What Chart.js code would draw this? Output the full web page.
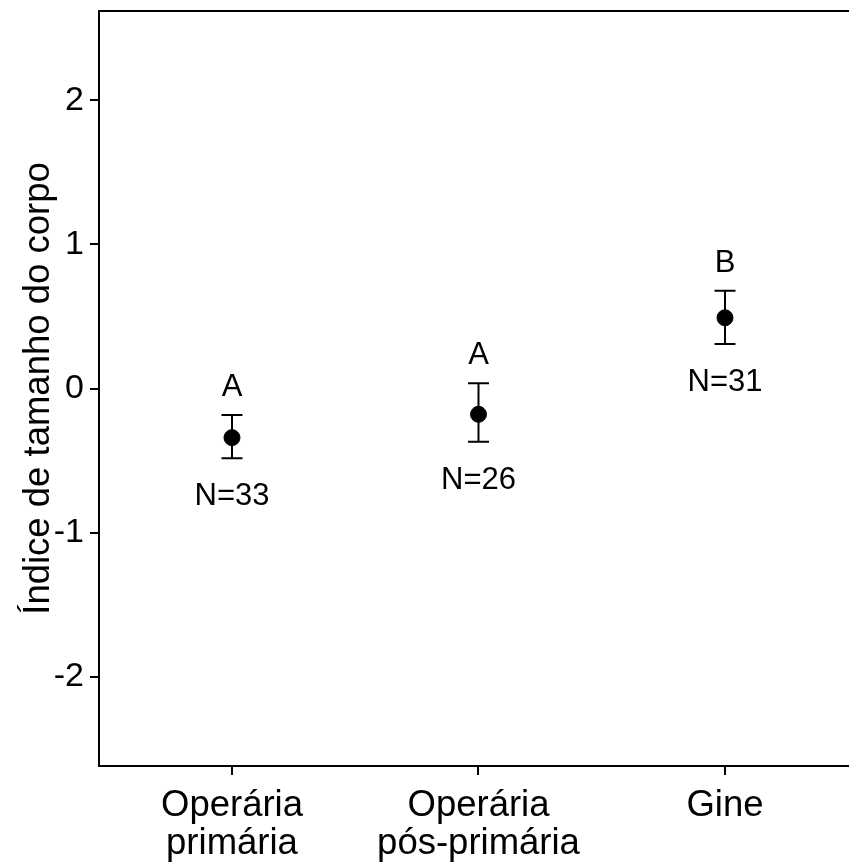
<!DOCTYPE html>
<html lang="pt">
<head>
  <meta charset="UTF-8">
  <title>Índice de tamanho do corpo</title>
  <script src="https://cdn.jsdelivr.net/npm/chart.js"></script>
  <style>
    body { margin: 0; background: #fff; overflow: hidden; }
    canvas { display: block; }
  </style>
</head>
<body>

  <canvas id="grafica" width="849" height="868"></canvas>

  <script>
    // castas e valores
    const castas = [['Operária', 'primária'], ['Operária', 'pós-primária'], ['Gine']];
    const medias = [-0.341, -0.179, 0.491];
    const limInf = [-0.484, -0.369, 0.309];
    const limSup = [-0.184, 0.036, 0.679];
    const letras = ['A', 'A', 'B'];
    const nAmostra = [33, 26, 31];
    const yTicks = [-2, -1, 0, 1, 2];

    const fonte = 'Liberation Sans, Arial, sans-serif';

    // barras de erro + letras + N
    const barrasErro = {
      id: 'barrasErro',
      beforeDatasetsDraw(chart) {
        const { ctx, scales: { x, y } } = chart;
        ctx.save();
        ctx.strokeStyle = '#000';
        ctx.lineWidth = 2;
        medias.forEach((m, i) => {
          const px = x.getPixelForValue(i + 1);
          const yTop = y.getPixelForValue(limSup[i]);
          const yBot = y.getPixelForValue(limInf[i]);
          ctx.beginPath();
          ctx.moveTo(px, yTop); ctx.lineTo(px, yBot);
          ctx.moveTo(px - 10.5, yTop); ctx.lineTo(px + 10.5, yTop);
          ctx.moveTo(px - 10.5, yBot); ctx.lineTo(px + 10.5, yBot);
          ctx.stroke();
        });
        ctx.restore();
      },
      afterDatasetsDraw(chart) {
        const { ctx, scales: { x, y } } = chart;
        ctx.save();
        ctx.fillStyle = '#000';
        ctx.font = '31px ' + fonte;
        ctx.textAlign = 'center';
        ctx.textBaseline = 'alphabetic';
        medias.forEach((m, i) => {
          const px = x.getPixelForValue(i + 1);
          ctx.fillText(letras[i], px, y.getPixelForValue(limSup[i]) - 19);
          ctx.fillText('N=' + nAmostra[i], px, y.getPixelForValue(limInf[i]) + 47);
        });
        ctx.restore();
      },
      // linha de cima do painel
      afterDraw(chart) {
        const { ctx, chartArea } = chart;
        ctx.save();
        ctx.strokeStyle = '#000';
        ctx.lineWidth = 2;
        ctx.beginPath();
        ctx.moveTo(chartArea.left - 1, chartArea.top);
        ctx.lineTo(chartArea.right, chartArea.top);
        ctx.stroke();
        ctx.restore();
      }
    };

    new Chart(document.getElementById('grafica'), {
      type: 'scatter',
      data: {
        datasets: [{
          data: medias.map((m, i) => ({ x: i + 1, y: m })),
          backgroundColor: '#000',
          borderColor: '#000',
          pointRadius: 8,
          pointHoverRadius: 8
        }]
      },
      options: {
        responsive: false,
        animation: false,
        layout: { autoPadding: false, padding: { top: 11, right: 0, left: 0, bottom: 0 } },
        plugins: { legend: { display: false }, tooltip: { enabled: false } },
        scales: {
          x: {
            type: 'linear',
            min: 0.4605,
            max: 3.503,
            afterBuildTicks: s => { s.ticks = castas.map((c, i) => ({ value: i + 1 })); },
            afterFit: s => { s.height = 102; s.paddingLeft = 0; s.paddingRight = 0; },
            grid: { drawOnChartArea: false, drawTicks: true, tickLength: 9, color: '#000', lineWidth: 2 },
            border: { display: true, color: '#000', width: 2 },
            ticks: {
              color: '#000',
              padding: 12,
              font: { family: fonte, size: 36.5, lineHeight: 1.04 },
              callback: (v) => castas[v - 1]
            }
          },
          y: {
            min: -2.62,
            max: 2.62,
            afterBuildTicks: s => { s.ticks = yTicks.map(v => ({ value: v })); },
            afterFit: s => { s.width = 99; s.paddingTop = 0; s.paddingBottom = 0; },
            grid: { drawOnChartArea: false, drawTicks: true, tickLength: 9, color: '#000', lineWidth: 2 },
            border: { display: true, color: '#000', width: 2 },
            ticks: {
              color: '#000',
              padding: 6,
              font: { family: fonte, size: 34 },
              callback: v => String(v)
            },
            title: {
              display: true,
              text: 'Índice de tamanho do corpo',
              color: '#000',
              font: { family: fonte, size: 36.5 },
              padding: { top: 17, bottom: 0 }
            }
          }
        }
      },
      plugins: [barrasErro]
    });
  </script>
</body>
</html>
